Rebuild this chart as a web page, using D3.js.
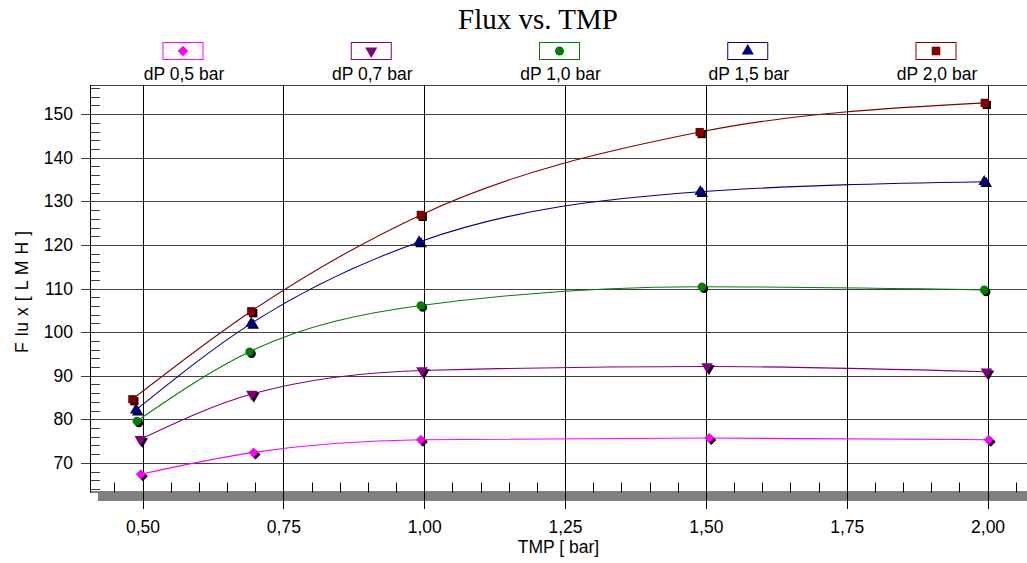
<!DOCTYPE html>
<html>
<head>
<meta charset="utf-8">
<script src="https://cdn.jsdelivr.net/npm/d3@7"></script>
<style>
  body { margin: 0; background: #fff; }
  text { font-family: "Liberation Sans", Arial, sans-serif; fill: #000; }
</style>
</head>
<body>
<svg id="chart" width="1027" height="563"></svg>
<script>
// Measured permeate flux vs. transmembrane pressure for five cross-flow pressure drops
const seriesNames = ["dP 0,5 bar", "dP 0,7 bar", "dP 1,0 bar", "dP 1,5 bar", "dP 2,0 bar"];
const seriesColors = ["#FF00FF", "#800080", "#008000", "#000080", "#800000"];

const tmp05 = [0.497, 0.697, 0.994, 1.506, 2.002];
const flux05 = [67.4, 72.4, 75.3, 75.7, 75.3];
const tmp07 = [0.496, 0.694, 0.996, 1.502, 1.998];
const flux07 = [75.4, 85.8, 91.2, 92.1, 90.9];
const tmp10 = [0.490, 0.690, 0.994, 1.493, 1.994];
const flux10 = [79.6, 95.5, 106.1, 110.4, 109.7];
const tmp15 = [0.488, 0.693, 0.991, 1.490, 1.994];
const flux15 = [82.1, 102.0, 120.7, 132.2, 134.5];
const tmp20 = [0.482, 0.693, 0.994, 1.489, 1.995];
const flux20 = [84.6, 104.8, 126.9, 145.9, 152.6];

const xTickValues = [0.50, 0.75, 1.00, 1.25, 1.50, 1.75, 2.00];
const yTickValues = [70, 80, 90, 100, 110, 120, 130, 140, 150];

const chartTitle = "Flux vs. TMP";
const xTitle = "TMP [ bar]";
const yTitle = "F lu x [ L M H ]";

const tmpSeries = [tmp05, tmp07, tmp10, tmp15, tmp20];
const fluxSeries = [flux05, flux07, flux10, flux15, flux20];

const series = seriesNames.map((name, i) => ({
  name,
  color: seriesColors[i],
  points: tmpSeries[i].map((t, j) => ({ t, f: fluxSeries[i][j] }))
}));

// Layout
const plot = { left: 90, right: 1027, top: 85, bottom: 492.5 };
const svg = d3.select("#chart");

const x = d3.scaleLinear().domain([0.4068, 2.07]).range([plot.left, plot.right]);
const y = d3.scaleLinear().domain([63.2, 156.7]).range([plot.bottom, plot.top]);

const commaLocale = d3.formatLocale({ decimal: ",", thousands: ".", grouping: [3], currency: ["", ""] });
const fmtX = commaLocale.format(".2f");

const crisp = v => Math.round(v) + 0.5;

// Floor band under the x axis
svg.append("rect")
  .attr("x", 98).attr("y", 493)
  .attr("width", plot.right - 98).attr("height", 8)
  .attr("fill", "#808080");

// Horizontal grid lines (with outward major ticks)
svg.append("g").selectAll("line").data(yTickValues).join("line")
  .attr("x1", 81).attr("x2", plot.right)
  .attr("y1", d => crisp(y(d))).attr("y2", d => crisp(y(d)))
  .attr("stroke", "#404040").attr("stroke-width", 1);

// Top border
svg.append("line")
  .attr("x1", plot.left).attr("x2", plot.right)
  .attr("y1", crisp(plot.top)).attr("y2", crisp(plot.top))
  .attr("stroke", "#404040");

// Minor y ticks, every 2 units, pointing into the plot
const yMinor = d3.range(64, 157, 2).filter(v => v % 10 !== 0);
svg.append("g").selectAll("line").data(yMinor).join("line")
  .attr("x1", plot.left).attr("x2", plot.left + 10)
  .attr("y1", d => crisp(y(d))).attr("y2", d => crisp(y(d)))
  .attr("stroke", "#404040");

// Minor x ticks, every 0.05, pointing into the plot
const xMinor = d3.range(0.45, 2.06, 0.05).map(v => +v.toFixed(2))
  .filter(v => !xTickValues.some(t => Math.abs(t - v) < 1e-6));
svg.append("g").selectAll("line").data(xMinor).join("line")
  .attr("x1", d => crisp(x(d))).attr("x2", d => crisp(x(d)))
  .attr("y1", plot.bottom - 10).attr("y2", plot.bottom)
  .attr("stroke", "#000");

// Vertical grid lines extending through the floor
svg.append("g").selectAll("line").data(xTickValues).join("line")
  .attr("x1", d => crisp(x(d))).attr("x2", d => crisp(x(d)))
  .attr("y1", plot.top).attr("y2", 509)
  .attr("stroke", "#000");

// Axis lines
svg.append("line")
  .attr("x1", crisp(plot.left)).attr("x2", crisp(plot.left))
  .attr("y1", plot.top).attr("y2", plot.bottom)
  .attr("stroke", "#000");
svg.append("line")
  .attr("x1", plot.left).attr("x2", plot.right)
  .attr("y1", 492).attr("y2", 492)
  .attr("stroke", "#000");

// Tick labels through d3 axes (tick lines hidden, drawn above)
const yAxis = svg.append("g")
  .attr("transform", `translate(${plot.left},0)`)
  .call(d3.axisLeft(y).tickValues(yTickValues).tickSize(9).tickPadding(8));
yAxis.select(".domain").remove();
yAxis.selectAll("line").remove();
yAxis.selectAll("text").attr("font-size", 17.5).attr("font-family", "Liberation Sans, Arial, sans-serif").attr("fill", "#000");

const xAxis = svg.append("g")
  .attr("transform", `translate(0,${plot.bottom})`)
  .call(d3.axisBottom(x).tickValues(xTickValues).tickFormat(fmtX).tickSize(17).tickPadding(11));
xAxis.select(".domain").remove();
xAxis.selectAll("line").remove();
xAxis.selectAll("text").attr("font-size", 17.5).attr("font-family", "Liberation Sans, Arial, sans-serif").attr("fill", "#000");

// Curves
const line = d3.line()
  .x(d => x(d.t)).y(d => y(d.f))
  .curve(d3.curveMonotoneX);

svg.append("g").selectAll("path").data(series).join("path")
  .attr("d", d => line(d.points))
  .attr("fill", "none")
  .attr("stroke", d => d.color)
  .attr("stroke-width", 1.1);

// Marker shapes per series
const markerDefs = [
  { type: d3.symbolSquare, size: 50, rotate: 45 },   // diamond
  { type: d3.symbolTriangle, size: 58, rotate: 180 }, // triangle down
  { type: d3.symbolCircle, size: 58, rotate: 0 },     // circle
  { type: d3.symbolTriangle, size: 58, rotate: 0 },   // triangle up
  { type: d3.symbolSquare, size: 68, rotate: 0 }      // square
];

series.forEach((s, i) => {
  const m = markerDefs[i];
  const path = d3.symbol(m.type, m.size)();
  const g = svg.append("g");
  // drop shadow
  g.selectAll("path.shadow").data(s.points).join("path")
    .attr("class", "shadow")
    .attr("d", path)
    .attr("transform", d => `translate(${x(d.t) + 2},${y(d.f) + 2}) rotate(${m.rotate})`)
    .attr("fill", "#000");
  g.selectAll("path.mark").data(s.points).join("path")
    .attr("class", "mark")
    .attr("d", path)
    .attr("transform", d => `translate(${x(d.t)},${y(d.f)}) rotate(${m.rotate})`)
    .attr("fill", s.color);
});

// Legend across the top
const legendX = d3.scalePoint().domain(seriesNames).range([183, 936]);
const legend = svg.append("g").selectAll("g").data(series).join("g")
  .attr("transform", d => `translate(${legendX(d.name)},0)`);

legend.append("rect")
  .attr("x", -20).attr("y", 42.5)
  .attr("width", 40).attr("height", 17)
  .attr("fill", "#fff")
  .attr("stroke", d => d.color);

legend.append("path")
  .attr("d", (d, i) => d3.symbol(markerDefs[i].type, markerDefs[i].size + 6)())
  .attr("transform", (d, i) => `translate(0,51) rotate(${markerDefs[i].rotate})`)
  .attr("fill", d => d.color);

legend.append("text")
  .attr("x", 1).attr("y", 80)
  .attr("text-anchor", "middle")
  .attr("font-size", 17.5)
  .text(d => d.name);

// Titles
svg.append("text")
  .attr("x", 538).attr("y", 29)
  .attr("text-anchor", "middle")
  .style("font-family", "'Liberation Serif', 'Times New Roman', serif")
  .attr("font-size", 29)
  .text(chartTitle);

svg.append("text")
  .attr("x", (plot.left + plot.right) / 2).attr("y", 553)
  .attr("text-anchor", "middle")
  .attr("font-size", 17.5)
  .text(xTitle);

svg.append("text")
  .attr("transform", `translate(28,${(plot.top + plot.bottom) / 2 + 3}) rotate(-90)`)
  .attr("text-anchor", "middle")
  .attr("font-size", 17.5)
  .attr("letter-spacing", 0.6)
  .text(yTitle);
</script>
</body>
</html>
